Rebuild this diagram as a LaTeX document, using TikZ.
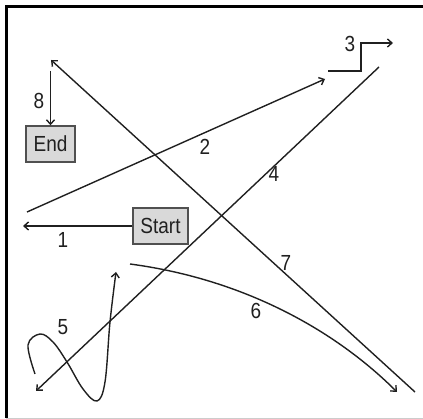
\documentclass[tikz,border=0pt]{standalone}
\usepackage{fontspec}
\setmainfont{Liberation Sans}
\usetikzlibrary{arrows.meta}
\definecolor{boxfill}{HTML}{D9D9D9}
\definecolor{boxline}{HTML}{505050}
\definecolor{ink}{HTML}{202020}
\newcommand{\stxt}[1]{\scalebox{1}[1.15]{\fontsize{19}{21}\selectfont #1}}
\tikzset{
  conn/.style={draw=ink, line width=1.4pt, -{Straight Barb[length=4.5pt,width=8pt]}},
  boxnode/.style={draw=boxline, fill=boxfill, line width=1.4pt, inner sep=0pt, text=ink},
  lbl/.style={inner sep=0pt, text=ink}
}
\begin{document}
\begin{tikzpicture}[x=1pt,y=-1pt]
\useasboundingbox (0,0) rectangle (423,419);
% frame
\draw[black!20, line width=0.8pt] (6,418) -- (423,418);
\draw[black, line width=3pt] (6,418) -- (6,6.5) -- (423,6.5);
% boxes
\node[boxnode, minimum width=55pt, minimum height=36pt] (start) at (160.5,226) {\stxt{Start}};
\node[boxnode, minimum width=49pt, minimum height=36pt] (end) at (50.5,144) {\stxt{End}};
% coordinates
\coordinate (e1) at (23,226);
\coordinate (s8) at (50.5,71);
\coordinate (s2) at (27,212);
\coordinate (e2) at (325,79);
\coordinate (s3) at (328,71);
\coordinate (m3) at (361,43);
\coordinate (e3) at (393,43);
\coordinate (s4) at (379,67);
\coordinate (e4) at (36,391);
\coordinate (s7) at (415,392);
\coordinate (e7) at (51,60);
\coordinate (s6) at (130,264);
\coordinate (e6) at (397,392);
% connectors
\draw[conn] (start.west) -- (e1);
\draw[conn] (s8) -- (end.north);
\draw[conn] (s2) -- (e2);
\draw[conn] (s3) -| (m3) -- (e3);
\draw[conn] (s4) -- (e4);
\draw[conn] (s7) -- (e7);
\draw[conn] (s6) .. controls (250,280) and (340,335) .. (e6);
\draw[conn] plot[smooth, tension=0.6] coordinates {(35,374) (28,345) (40,334) (53,342) (67,362) (83,389) (97,401) (105,382) (110,322) (116,272)};
% labels
\node[lbl] (l1) at (63,240) {\stxt{1}};
\node[lbl] (l2) at (205,147) {\stxt{2}};
\node[lbl] (l3) at (350,44) {\stxt{3}};
\node[lbl] (l4) at (274,174) {\stxt{4}};
\node[lbl] (l5) at (63,327) {\stxt{5}};
\node[lbl] (l6) at (256,311) {\stxt{6}};
\node[lbl] (l7) at (286,263) {\stxt{7}};
\node[lbl] (l8) at (39,101) {\stxt{8}};
\end{tikzpicture}
\end{document}
